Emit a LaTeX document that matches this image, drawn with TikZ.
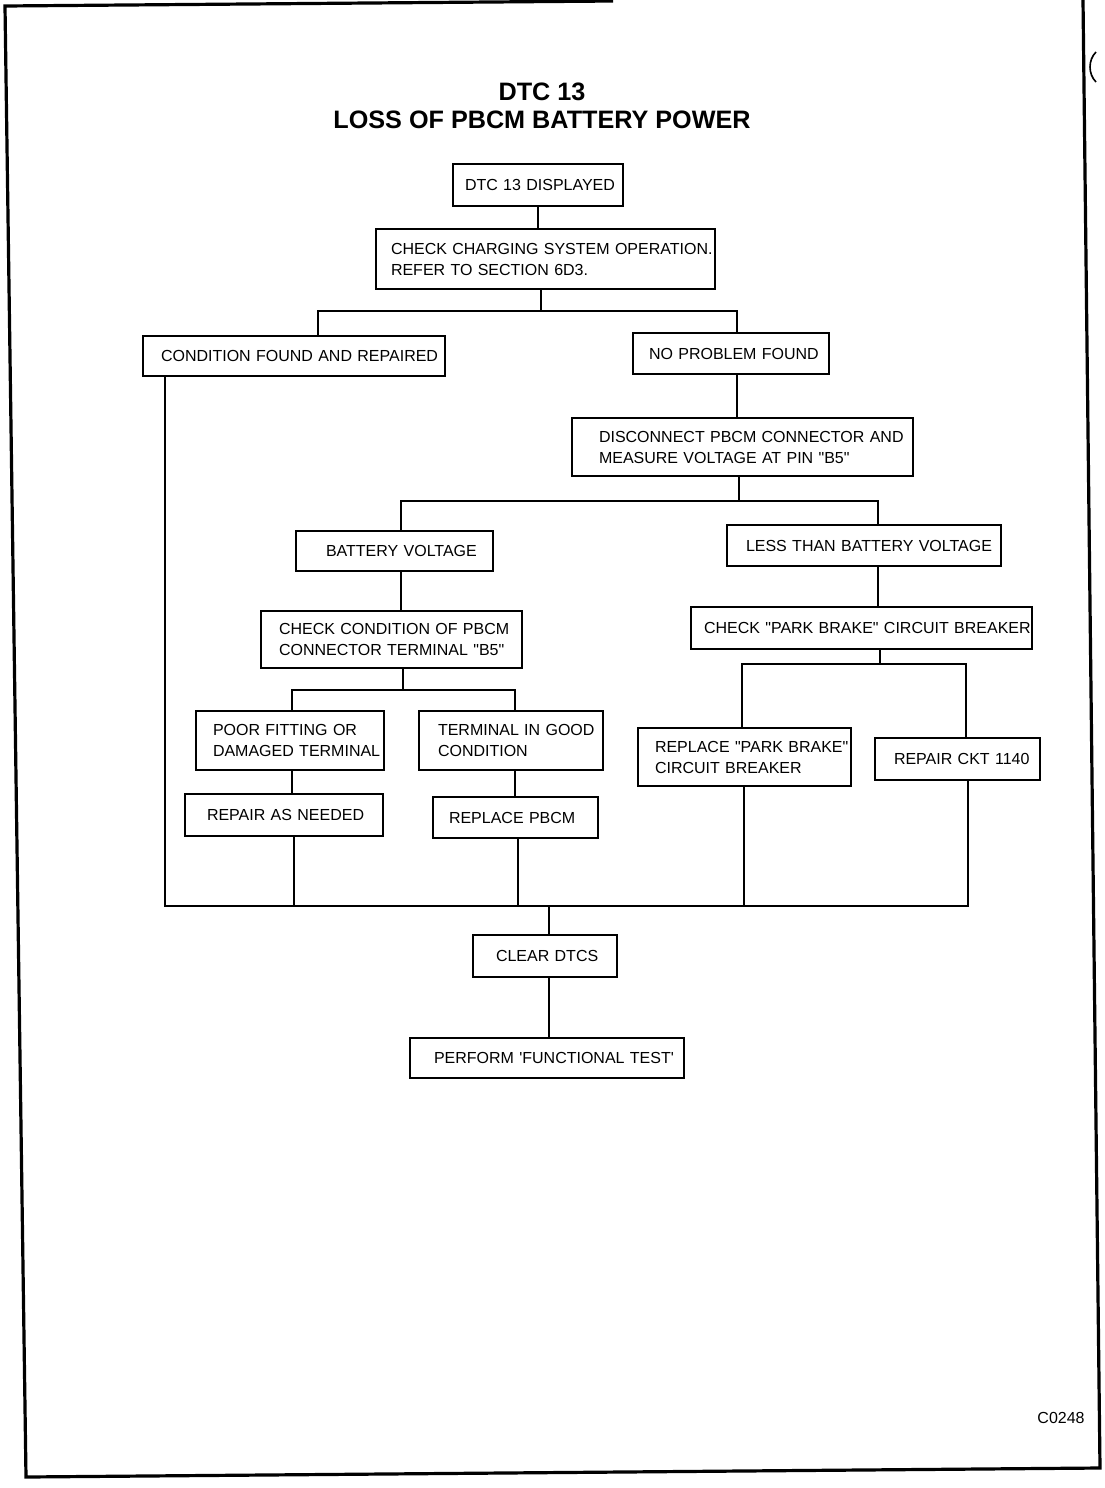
\documentclass[tikz,border=0pt]{standalone}
\usepackage{fontspec}
\setmainfont{Liberation Sans}[Ligatures=TeXOff]
\begin{document}
\begin{tikzpicture}[x=0.5pt,y=-0.5pt,
  fbox/.style={draw, line width=1pt, rectangle, anchor=north west, align=left, inner ysep=0pt, font=\fontsize{8}{10.5}\selectfont},
  conn/.style={line width=1pt},
  frame/.style={line width=1.6pt, line join=miter},
  ttl/.style={font=\fontsize{12.6}{14}\selectfont\bfseries, anchor=base, inner sep=0pt}]
\useasboundingbox (0,0) rectangle (1104,1488);
% frame
\draw[frame] (613,1) -- (5,6) -- (26,1477) -- (1100,1468) -- (1083,0);
\draw[line width=0.8pt] (1096,52) .. controls (1088,60) and (1088,74) .. (1096,82);
% title
\node[ttl] (t1) at (542,100) {DTC 13};
\node[ttl] (t2) at (542,128) {LOSS OF PBCM BATTERY POWER};
% boxes
\node[fbox, inner xsep=6pt, text width=73pt, minimum height=21pt] (a) at (452,163) {\mbox{DTC 13 DISPLAYED}};
\node[fbox, inner xsep=7.5pt, text width=154.5pt, minimum height=30pt] (b) at (375,228) {\mbox{CHECK CHARGING SYSTEM OPERATION.}\\\mbox{REFER TO SECTION 6D3.}};
\node[fbox, inner xsep=9pt, text width=133pt, minimum height=20pt] (c) at (142,335) {\mbox{CONDITION FOUND AND REPAIRED}};
\node[fbox, inner xsep=8pt, text width=82pt, minimum height=20.5pt] (d) at (632,332) {\mbox{NO PROBLEM FOUND}};
\node[fbox, inner xsep=13.5pt, text width=143.5pt, minimum height=29pt] (e) at (571,417) {\mbox{DISCONNECT PBCM CONNECTOR AND}\\\mbox{MEASURE VOLTAGE AT PIN "B5"}};
\node[fbox, inner xsep=15pt, text width=68.5pt, minimum height=20pt] (f) at (295,530) {\mbox{BATTERY VOLTAGE}};
\node[fbox, inner xsep=9.5pt, text width=118pt, minimum height=20.5pt] (g) at (726,524) {\mbox{LESS THAN BATTERY VOLTAGE}};
\node[fbox, inner xsep=9pt, text width=112.5pt, minimum height=28.5pt] (h) at (260,610) {\mbox{CHECK CONDITION OF PBCM}\\\mbox{CONNECTOR TERMINAL "B5"}};
\node[fbox, inner xsep=6.5pt, text width=157.5pt, minimum height=21pt] (i) at (690,606) {\mbox{CHECK "PARK BRAKE" CIRCUIT BREAKER}};
\node[fbox, inner xsep=8.5pt, text width=77pt, minimum height=29.5pt] (j) at (195,710) {\mbox{POOR FITTING OR}\\\mbox{DAMAGED TERMINAL}};
\node[fbox, inner xsep=9.5pt, text width=73pt, minimum height=29.5pt] (k) at (418,710) {\mbox{TERMINAL IN GOOD}\\\mbox{CONDITION}};
\node[fbox, inner xsep=11pt, text width=77pt, minimum height=21pt] (l) at (184,793) {\mbox{REPAIR AS NEEDED}};
\node[fbox, inner xsep=8pt, text width=66.5pt, minimum height=20.5pt] (m) at (432,796) {\mbox{REPLACE PBCM}};
\node[fbox, inner xsep=8.5pt, text width=89.5pt, minimum height=29pt] (n) at (637,727) {\mbox{REPLACE "PARK BRAKE"}\\\mbox{CIRCUIT BREAKER}};
\node[fbox, inner xsep=9.5pt, text width=63.5pt, minimum height=21pt] (o) at (874,737) {\mbox{REPAIR CKT 1140}};
\node[fbox, inner xsep=11.5pt, text width=49pt, minimum height=21pt] (p) at (472,934) {\mbox{CLEAR DTCS}};
\node[fbox, inner xsep=12pt, text width=113pt, minimum height=20pt] (q) at (409,1037) {\mbox{PERFORM 'FUNCTIONAL TEST'}};
% caption
\node[anchor=base east, inner sep=0pt, font=\fontsize{8}{10}\selectfont] (code) at (1085,1423) {C0248};
% connectors
\coordinate (j1) at (541,311); \coordinate (j1L) at (318,311); \coordinate (j1R) at (737,311);
\draw[conn] (a.south) -- (a.south |- b.north);
\draw[conn] (b.south -| j1) -- (j1);
\draw[conn] (c.north -| j1L) -- (j1L) -- (j1R) -- (d.north -| j1R);
\draw[conn] (d.south -| j1R) -- (e.north -| j1R);
\coordinate (j2) at (739,501); \coordinate (j2L) at (401,501); \coordinate (j2R) at (878,501);
\draw[conn] (e.south -| j2) -- (j2);
\draw[conn] (f.north -| j2L) -- (j2L) -- (j2R) -- (g.north -| j2R);
\draw[conn] (f.south -| j2L) -- (h.north -| j2L);
\draw[conn] (g.south -| j2R) -- (i.north -| j2R);
\coordinate (j3) at (403,690); \coordinate (j3L) at (292,690); \coordinate (j3R) at (515,690);
\draw[conn] (h.south -| j3) -- (j3);
\draw[conn] (j.north -| j3L) -- (j3L) -- (j3R) -- (k.north -| j3R);
\draw[conn] (j.south -| j3L) -- (l.north -| j3L);
\draw[conn] (k.south -| j3R) -- (m.north -| j3R);
\coordinate (j4) at (880,664); \coordinate (j4L) at (742,664); \coordinate (j4R) at (966,664);
\draw[conn] (i.south -| j4) -- (j4);
\draw[conn] (n.north -| j4L) -- (j4L) -- (j4R) -- (o.north -| j4R);
\coordinate (k1) at (165,906); \coordinate (k2) at (294,906); \coordinate (k3) at (518,906);
\coordinate (k4) at (744,906); \coordinate (k5) at (968,906); \coordinate (kj) at (549,906);
\draw[conn] (c.south -| k1) -- (k1) -- (k5) -- (o.south -| k5);
\draw[conn] (l.south -| k2) -- (k2);
\draw[conn] (m.south -| k3) -- (k3);
\draw[conn] (n.south -| k4) -- (k4);
\draw[conn] (kj) -- (p.north -| kj);
\draw[conn] (p.south -| kj) -- (q.north -| kj);
\end{tikzpicture}
\end{document}
